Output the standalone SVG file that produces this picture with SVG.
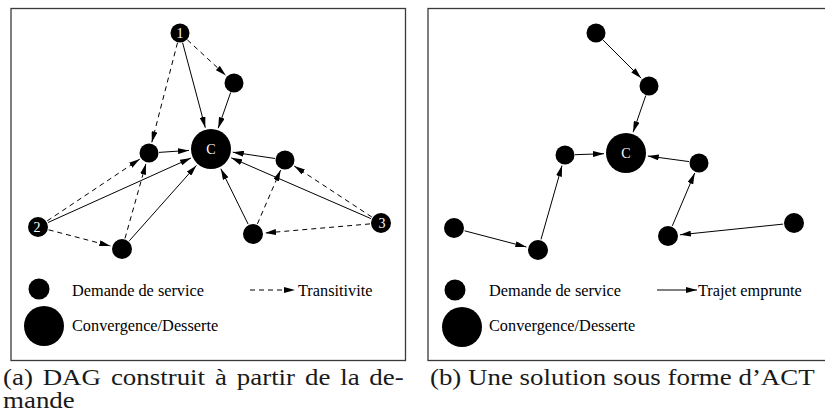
<svg xmlns="http://www.w3.org/2000/svg" width="825" height="414" viewBox="0 0 825 414">
<defs>
<marker id="ah" markerUnits="userSpaceOnUse" markerWidth="11" markerHeight="6" refX="11" refY="3" orient="auto">
<path d="M0,0 L11,3 L0,6 z" fill="#000"/>
</marker>
<style>
.frame{fill:#fff;stroke:#3a3a3a;stroke-width:1.3}
.nd{fill:#000}
.e{stroke:#000;stroke-width:1;fill:none;marker-end:url(#ah)}
.d{stroke-dasharray:5,4}
.nl{font-family:"Liberation Serif","Times New Roman",serif;fill:#fff;text-anchor:middle}
.lg{font-family:"Liberation Serif","Times New Roman",serif;font-size:16.3px;fill:#000}
.cap{font-family:"Liberation Serif","Times New Roman",serif;font-size:23px;fill:#1a1a1a}
</style>
</defs>
<rect class="frame" x="11" y="8.5" width="394.5" height="352"/>
<rect class="frame" x="428" y="8.5" width="400" height="352"/>

<g id="connectors">
<line class="e" x1="182.6" y1="42.7" x2="205.3" y2="127.7"/>
<line class="e d" x1="187.3" y1="39.8" x2="225.9" y2="75.5"/>
<line class="e" x1="230.7" y1="92.4" x2="218.2" y2="128.2"/>
<line class="e d" x1="177.5" y1="42.7" x2="151.8" y2="142.4"/>
<line class="e" x1="159" y1="152.4" x2="189" y2="150.4"/>
<line class="e" x1="275.1" y1="158.5" x2="232.8" y2="152.2"/>
<line class="e d" x1="47.2" y1="220.9" x2="139.8" y2="159.1"/>
<line class="e" x1="48" y1="222.5" x2="191" y2="158"/>
<line class="e d" x1="48.6" y1="229.8" x2="110.4" y2="246"/>
<line class="e d" x1="125" y1="238.4" x2="146" y2="163.6"/>
<line class="e" x1="129.3" y1="240.8" x2="196.4" y2="165.4"/>
<line class="e" x1="248.1" y1="224.1" x2="220.8" y2="168.7"/>
<line class="e d" x1="257.4" y1="223.9" x2="280.6" y2="170.1"/>
<line class="e d" x1="371.8" y1="217" x2="294.2" y2="166"/>
<line class="e" x1="370.9" y1="218.6" x2="231.2" y2="157.8"/>
<line class="e d" x1="370" y1="223.9" x2="265" y2="233"/>
<line class="e d" x1="250" y1="290" x2="295" y2="290"/>

<line class="e" x1="603.1" y1="40.1" x2="641.2" y2="78.2"/>
<line class="e" x1="645.8" y1="95.5" x2="633.1" y2="132.2"/>
<line class="e" x1="575" y1="154.7" x2="604" y2="153.7"/>
<line class="e" x1="689.1" y1="161.6" x2="647.8" y2="156"/>
<line class="e" x1="464.6" y1="230.8" x2="526.4" y2="247"/>
<line class="e" x1="541" y1="239.4" x2="562" y2="165.6"/>
<line class="e" x1="672.3" y1="225.9" x2="694.7" y2="173.1"/>
<line class="e" x1="783.1" y1="224.1" x2="679.9" y2="234.8"/>
<line class="e" x1="657" y1="290" x2="697" y2="290"/>
</g>

<g id="a-n1"><circle class="nd" cx="180" cy="33" r="9.5"/><text class="nl" x="180" y="38" font-size="14">1</text></g>
<g id="a-nt"><circle class="nd" cx="234" cy="83" r="9.5"/></g>
<g id="a-c"><circle class="nd" cx="211" cy="149" r="20"/><text class="nl" x="211" y="154" font-size="14">C</text></g>
<g id="a-nl"><circle class="nd" cx="149" cy="153" r="9.5"/></g>
<g id="a-nr"><circle class="nd" cx="285" cy="160" r="9.5"/></g>
<g id="a-n2"><circle class="nd" cx="38" cy="227" r="10"/><text class="nl" x="37" y="232" font-size="14">2</text></g>
<g id="a-nbl"><circle class="nd" cx="122" cy="249" r="10"/></g>
<g id="a-nbr"><circle class="nd" cx="253" cy="234" r="10"/></g>
<g id="a-n3"><circle class="nd" cx="381" cy="223" r="10"/><text class="nl" x="382" y="228" font-size="14">3</text></g>
<g id="a-legend">
<circle class="nd" cx="39" cy="289" r="10.5"/>
<circle class="nd" cx="44" cy="326" r="20"/>
<text class="lg" x="72" y="296">Demande de service</text>
<text class="lg" x="298" y="296">Transitivite</text>
<text class="lg" x="72" y="331">Convergence/Desserte</text>
</g>

<g id="b-na"><circle class="nd" cx="596" cy="33" r="9.5"/></g>
<g id="b-nb"><circle class="nd" cx="649" cy="86" r="9.5"/></g>
<g id="b-c"><circle class="nd" cx="626" cy="153" r="20"/><text class="nl" x="626" y="158" font-size="14">C</text></g>
<g id="b-nl"><circle class="nd" cx="565" cy="155" r="9.5"/></g>
<g id="b-nr"><circle class="nd" cx="699" cy="163" r="9.5"/></g>
<g id="b-nfl"><circle class="nd" cx="454" cy="228" r="10"/></g>
<g id="b-nbl"><circle class="nd" cx="538" cy="250" r="10"/></g>
<g id="b-nbr"><circle class="nd" cx="668" cy="236" r="10"/></g>
<g id="b-nfr"><circle class="nd" cx="794" cy="223" r="10"/></g>
<g id="b-legend">
<circle class="nd" cx="455" cy="290" r="10.5"/>
<circle class="nd" cx="462" cy="327" r="20"/>
<text class="lg" x="489" y="296">Demande de service</text>
<text class="lg" x="698" y="296">Trajet emprunte</text>
<text class="lg" x="489" y="331">Convergence/Desserte</text>
</g>

<g id="captions" transform="scale(1.17,1)">
<text class="cap" y="385"><tspan x="2.6">(a)</tspan><tspan x="36.5">DAG</tspan><tspan x="94.8">construit</tspan><tspan x="183.8">à</tspan><tspan x="202.4">partir</tspan><tspan x="260.7">de</tspan><tspan x="290.8">la</tspan><tspan x="315.7">de-</tspan></text>
<text class="cap" x="2.6" y="408">mande</text>
<text class="cap" x="367.5" y="385">(b) Une solution sous forme d’ACT</text>
</g>
</svg>
